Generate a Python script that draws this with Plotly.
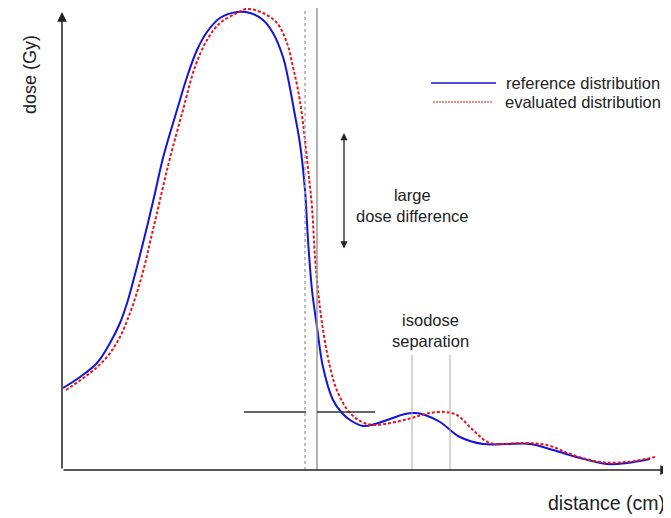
import plotly.graph_objects as go

# Reference distribution: distance (arb. units) vs dose (arb. units)
ref_x = [1, 18, 35, 48, 58, 66, 72, 78, 85, 93, 101, 115, 125, 135, 145, 158, 175, 188, 201, 211,
         221, 226, 232, 238, 243, 246, 250, 255, 261, 271, 280, 288, 301, 313, 328, 343, 353, 363,
         378, 398, 421, 445, 468, 491, 518, 545, 565, 588]
ref_y = [82, 93, 107, 127, 147, 170, 192, 215, 243, 277, 312, 360, 393, 420, 438, 452, 458, 457, 450, 437,
         413, 392, 360, 326, 280, 230, 180, 143, 103, 70, 57, 50, 44, 46, 51, 56, 57, 55,
         48, 33, 26, 26, 26, 20, 12, 6, 7, 11]

# Evaluated distribution
eva_x = [4, 28, 45, 58, 68, 76, 83, 89, 95, 101, 108, 121, 133, 145, 158, 175, 185, 201, 215, 225,
         231, 236, 240, 243, 246.5, 250, 253, 256, 260, 268, 276, 288, 300, 311, 323, 338, 353, 368,
         383, 395, 411, 428, 461, 485, 511, 538, 565, 593]
eva_y = [80, 97, 113, 133, 157, 181, 206, 232, 257, 283, 312, 360, 403, 430, 447, 457, 461, 457, 447, 427,
         403, 380, 355, 330, 297, 263, 213, 180, 147, 103, 77, 57, 48, 45, 46, 49, 53, 57,
         58, 55, 40, 27, 27, 25, 15, 8, 8, 13]

legend_labels = ["reference distribution", "evaluated distribution"]

BLUE = "#1414d6"
RED = "#e8141b"

fig = go.Figure()
fig.add_trace(go.Scatter(x=ref_x, y=ref_y, mode="lines",
                         line=dict(color=BLUE, width=2, shape="spline", smoothing=1.0), showlegend=False))
fig.add_trace(go.Scatter(x=eva_x, y=eva_y, mode="lines",
                         line=dict(color=RED, width=2, dash="3px,2px", shape="spline", smoothing=1.0), showlegend=False))

# legend drawn manually
fig.add_trace(go.Scatter(x=[369, 434], y=[387, 387], mode="lines", line=dict(color=BLUE, width=1.5), showlegend=False))
fig.add_trace(go.Scatter(x=[371, 430], y=[368, 368], mode="lines", line=dict(color=RED, width=1.2, dash="2px,1px"), showlegend=False))

FAM = "Liberation Sans, Arial, sans-serif"
fnt = dict(family=FAM, size=16.5, color="#222")
fig.add_annotation(x=442, y=387, text=legend_labels[0], showarrow=False, xanchor="left", yanchor="middle", font=fnt)
fig.add_annotation(x=441, y=368, text=legend_labels[1], showarrow=False, xanchor="left", yanchor="middle", font=fnt)

shapes = []
shapes.append(dict(type="line", x0=243, x1=243, y0=0, y1=470, line=dict(color="#aaa", width=1.5, dash="dot")))
shapes.append(dict(type="line", x0=255, x1=255, y0=0, y1=470, line=dict(color="#999", width=1.5)))
shapes.append(dict(type="line", x0=350, x1=350, y0=0, y1=115, line=dict(color="#aaa", width=1)))
shapes.append(dict(type="line", x0=388, x1=388, y0=0, y1=115, line=dict(color="#aaa", width=1)))
shapes.append(dict(type="line", x0=182, x1=244, y0=58, y1=58, line=dict(color="#333", width=1.5)))
shapes.append(dict(type="line", x0=255, x1=313, y0=58, y1=58, line=dict(color="#333", width=1.5)))
fig.update_layout(shapes=shapes)

# axis arrows
fig.add_annotation(x=0, y=458, ax=0, ay=0, xref="x", yref="y", axref="x", ayref="y", showarrow=True,
                   arrowhead=2, arrowsize=1.3, arrowwidth=1.5, arrowcolor="#222", text="")
fig.add_annotation(x=608, y=0, ax=0, ay=0, xref="x", yref="y", axref="x", ayref="y", showarrow=True,
                   arrowhead=2, arrowsize=1.3, arrowwidth=1.5, arrowcolor="#222", text="")
# double arrow
fig.add_annotation(x=282, y=337, ax=282, ay=220, xref="x", yref="y", axref="x", ayref="y", showarrow=True,
                   arrowhead=2, startarrowhead=2, arrowside="end+start", arrowsize=1.1, arrowwidth=1.3,
                   arrowcolor="#222", text="")

fig.add_annotation(x=350, y=265, text="large<br>dose difference", showarrow=False, font=fnt, align="center")
fig.add_annotation(x=368, y=140, text="isodose<br>separation", showarrow=False, font=fnt, align="center")
fig.add_annotation(x=605, y=-33, text="distance (cm)", showarrow=False, xanchor="right",
                   font=dict(family=FAM, size=19.5, color="#222"))
fig.add_annotation(x=-32, y=395, text="dose (Gy)", textangle=-90, showarrow=False,
                   font=dict(family=FAM, size=18, color="#222"))

# page has an 8px body margin, so the figure is 663x510 placed at (8, 8)
fig.update_layout(
    width=663, height=510, margin=dict(l=0, r=0, t=0, b=0),
    paper_bgcolor="white", plot_bgcolor="white",
    xaxis=dict(range=[-54, 609], visible=False, fixedrange=True),
    yaxis=dict(range=[-48, 462], visible=False, fixedrange=True),
)
fig.write_html("out.html")
